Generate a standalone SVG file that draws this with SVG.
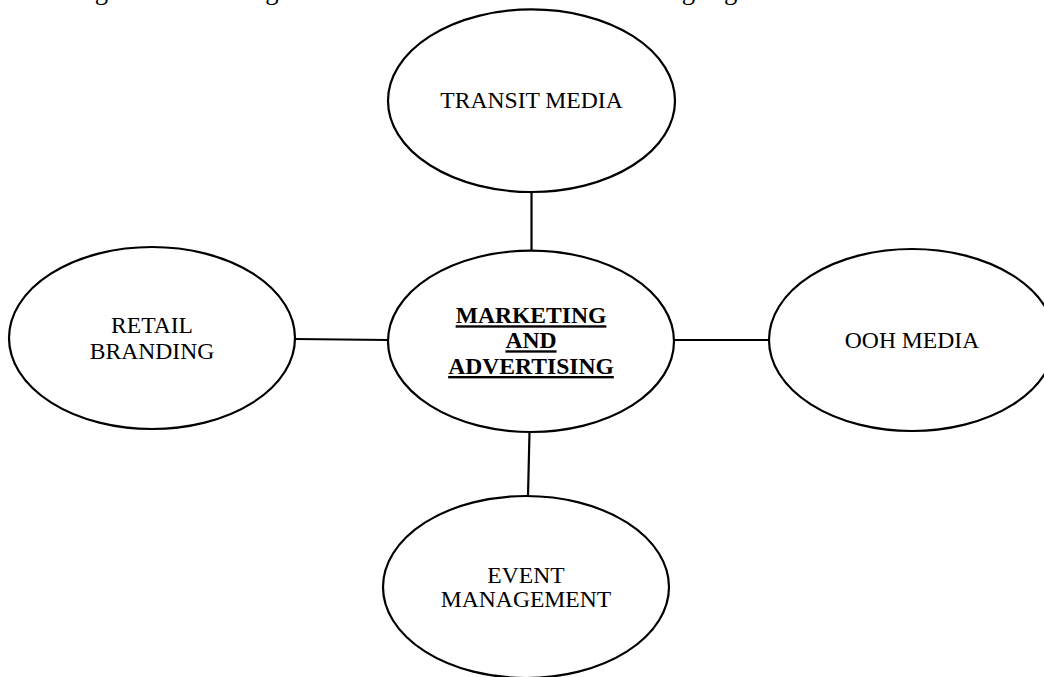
<svg xmlns="http://www.w3.org/2000/svg" width="1044" height="677" viewBox="0 0 1044 677">
<style>
.n{fill:#fff;stroke:#000;stroke-width:2.2}
.t{font-family:"Liberation Serif","Times New Roman",serif;font-size:23.6px;fill:#000;text-anchor:middle}
.b{font-weight:bold;text-decoration:underline}
.c line{stroke:#000;stroke-width:2.2}
</style>
<rect width="1044" height="677" fill="#fff"/>
<text x="0" y="-1.5" style="font-family:'Liberation Serif','Times New Roman',serif;font-size:26.7px;fill:#000">marketing and advertising services are divided into the following segments.</text>
<g class="c" id="connectors">
<line x1="531.5" y1="192" x2="531.5" y2="251"/>
<line x1="295" y1="339" x2="388" y2="340"/>
<line x1="674" y1="340" x2="769" y2="340"/>
<line x1="529.5" y1="432" x2="528" y2="496"/>
</g>
<g id="transit"><ellipse class="n" cx="531.5" cy="100.7" rx="143.5" ry="91.3"/><text class="t" x="531.5" y="108.3">TRANSIT MEDIA</text></g>
<g id="retail"><ellipse class="n" cx="152" cy="338" rx="143" ry="91"/><text class="t" x="152" y="333">RETAIL</text><text class="t" x="152" y="359">BRANDING</text></g>
<g id="ooh"><ellipse class="n" cx="912" cy="340" rx="143" ry="91"/><text class="t" x="912" y="348">OOH MEDIA</text></g>
<g id="event"><ellipse class="n" cx="526" cy="587" rx="143" ry="91"/><text class="t" x="526" y="582.7">EVENT</text><text class="t" x="526" y="606.7">MANAGEMENT</text></g>
<g id="center"><ellipse class="n" cx="531" cy="341.3" rx="143" ry="90.7"/><text class="t b" x="531" y="323.3">MARKETING</text><text class="t b" x="531" y="348.3">AND</text><text class="t b" x="531" y="374">ADVERTISING</text></g>
</svg>
